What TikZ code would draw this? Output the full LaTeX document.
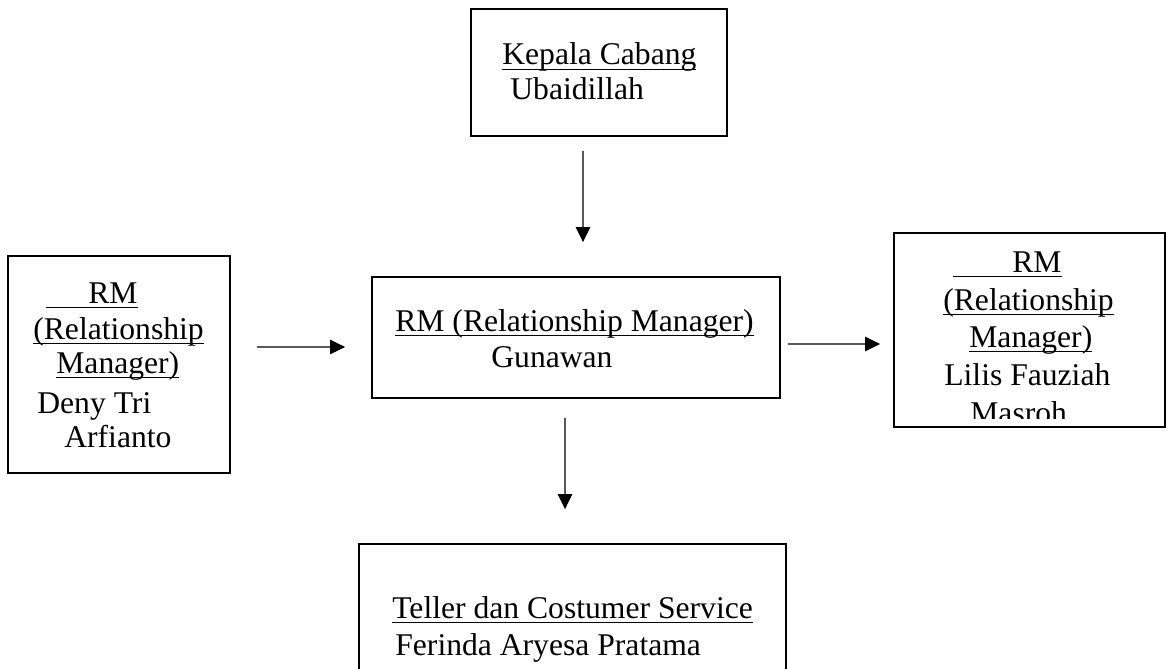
\documentclass[tikz,border=0pt]{standalone}
\usepackage{fontspec}
\setmainfont{Liberation Serif}
\usetikzlibrary{arrows.meta,positioning}
\newcommand{\ulbox}[1]{\setbox0\hbox{#1}\rlap{\rule[-3pt]{\wd0}{0.9pt}}\box0}
\tikzset{%
box/.style={draw=black, line width=1.1pt, inner sep=0pt},
lbl/.style={anchor=base west, inner sep=0pt, font=\fontsize{18pt}{21pt}\selectfont},
conn/.style={draw=black, line width=0.6pt, -{Triangle[length=0.3cm,width=0.29cm]}}
}

\begin{document}
\begin{tikzpicture}[x=0.02cm,y=-0.02cm]
		\clip (0,0) rectangle (1167,669);
		% boxes
		\node[box, minimum width=5.12cm, minimum height=2.54cm] (kc) at (599,72.5) {};
		\node[box, minimum width=8.16cm, minimum height=2.42cm] (rmmid) at (576,337.5) {};
		\node[box, minimum width=4.44cm, minimum height=4.34cm] (rmleft) at (119,364.5) {};
		\node[box, minimum width=5.42cm, minimum height=3.88cm] (rmright) at (1029.5,330) {};
		\node[box, minimum width=8.54cm, minimum height=3.12cm] (teller) at (572.5,622) {};
		
		% texts
		\node[lbl] (kc1) at (502,65) {\ulbox{Kepala Cabang}};
		\node[lbl] (kc2) at (510,100) {Ubaidillah};
		
		\node[lbl] (mid1) at (395,331) {\ulbox{RM (Relationship Manager)}};
		\node[lbl] (mid2) at (491,367) {Gunawan};
		
		\node[lbl] (left1) at (46,303) {\ulbox{\hspace*{0.84cm}RM}};
		\node[lbl] (left2) at (33,339) {\ulbox{(Relationship}};
		\node[lbl] (left3) at (56,373) {\ulbox{Manager)}};
		\node[lbl] (left4) at (37,413) {Deny Tri};
		\node[lbl] (left5) at (64,447) {Arfianto};
		
		\begin{scope}
			\clip (894,233) rectangle (1165,418);
			\node[lbl] (right1) at (953,272) {\ulbox{\hspace*{1.18cm}RM}};
			\node[lbl] (right2) at (943,310) {\ulbox{(Relationship}};
			\node[lbl] (right3) at (969,347) {\ulbox{Manager)}};
			\node[lbl] (right4) at (944,385) {Lilis Fauziah};
			\node[lbl] (right5) at (970,423) {Masroh};
		\end{scope}
		
		\node[lbl] (tel1) at (392,618) {\ulbox{Teller dan Costumer Service}};
		\node[lbl] (tel2) at (395,655) {Ferinda Aryesa Pratama};
		
		% connectors
		\draw[conn] ([xshift=-0.32cm,yshift=-0.28cm]kc.south) -- ([xshift=0.14cm,yshift=0.68cm]rmmid.north);
		\draw[conn] ([xshift=0.52cm,yshift=0.35cm]rmleft.east) -- ([xshift=-0.52cm,yshift=-0.19cm]rmmid.west);
		\draw[conn] ([xshift=0.14cm,yshift=-0.13cm]rmmid.east) -- ([xshift=-0.26cm,yshift=-0.28cm]rmright.west);
		\draw[conn] ([xshift=-0.22cm,yshift=-0.38cm]rmmid.south) -- ([xshift=-0.15cm,yshift=0.68cm]teller.north);
	\end{tikzpicture}
\end{document}
